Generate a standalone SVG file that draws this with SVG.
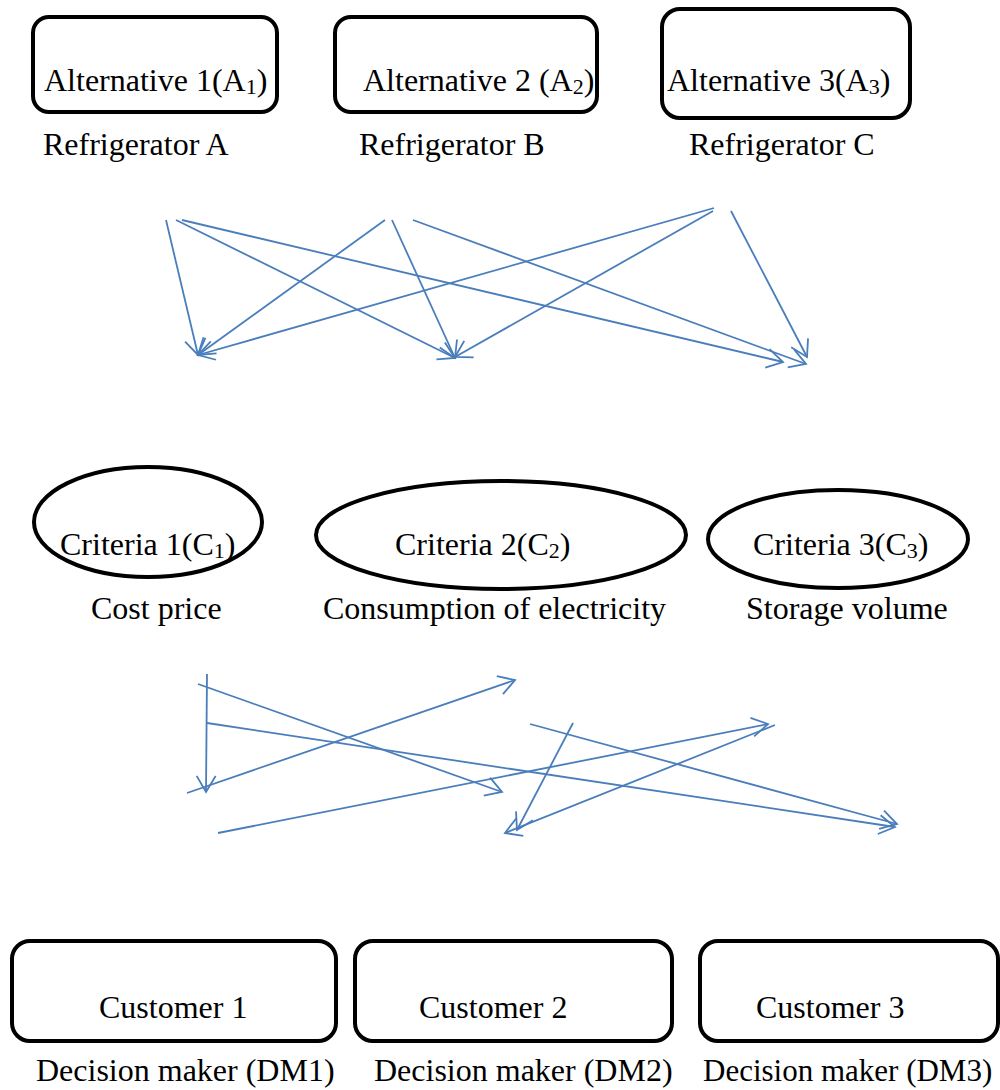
<svg xmlns="http://www.w3.org/2000/svg" width="1000" height="1090" viewBox="0 0 1000 1090">
<style>
text{font-family:"Liberation Serif","Times New Roman",serif;font-size:32px;fill:#000}
.sub{font-size:22px}
.node{fill:#fff;stroke:#000;stroke-width:4}
.arr{stroke:#4a7ebb;stroke-width:1.8;fill:none;marker-end:url(#ah)}
</style>
<defs>
<marker id="ah" markerUnits="userSpaceOnUse" markerWidth="24" markerHeight="24" refX="18" refY="10" orient="auto" viewBox="0 0 24 20">
<path d="M2,0.5 L18,10 L2,19.5" fill="none" stroke="#4a7ebb" stroke-width="1.8"/>
</marker>
</defs>
<rect width="1000" height="1090" fill="#fff"/>
<g id="A1"><rect class="node" x="33" y="17" width="244" height="95" rx="16"/><text x="44" y="91">Alternative 1(A<tspan class="sub" dy="3">1</tspan><tspan dy="-3">)</tspan></text><text x="43" y="155">Refrigerator A</text></g>
<g id="A2"><rect class="node" x="335" y="17" width="262" height="95" rx="16"/><text x="363" y="91">Alternative 2 (A<tspan class="sub" dy="3">2</tspan><tspan dy="-3">)</tspan></text><text x="359" y="155">Refrigerator B</text></g>
<g id="A3"><rect class="node" x="662" y="9" width="248" height="109" rx="18"/><text x="667" y="91">Alternative 3(A<tspan class="sub" dy="3">3</tspan><tspan dy="-3">)</tspan></text><text x="689" y="155">Refrigerator C</text></g>
<g id="C1"><ellipse class="node" cx="148" cy="522" rx="114" ry="55"/><text x="60" y="555">Criteria 1(C<tspan class="sub" dy="3">1</tspan><tspan dy="-3">)</tspan></text><text x="91" y="619">Cost price</text></g>
<g id="C2"><ellipse class="node" cx="501" cy="535" rx="185" ry="54"/><text x="395" y="555">Criteria 2(C<tspan class="sub" dy="3">2</tspan><tspan dy="-3">)</tspan></text><text x="323" y="619">Consumption of electricity</text></g>
<g id="C3"><ellipse class="node" cx="838" cy="539" rx="130" ry="49"/><text x="753" y="555">Criteria 3(C<tspan class="sub" dy="3">3</tspan><tspan dy="-3">)</tspan></text><text x="746" y="619">Storage volume</text></g>
<g id="DM1"><rect class="node" x="12" y="941" width="324" height="100" rx="18"/><text x="99" y="1018">Customer 1</text><text x="36" y="1081">Decision maker (DM1)</text></g>
<g id="DM2"><rect class="node" x="355" y="941" width="317" height="100" rx="18"/><text x="419" y="1018">Customer 2</text><text x="374" y="1081">Decision maker (DM2)</text></g>
<g id="DM3"><rect class="node" x="700" y="941" width="298" height="100" rx="18"/><text x="756" y="1018">Customer 3</text><text x="703" y="1081" style="font-size:31px">Decision maker (DM3)</text></g>
<g id="connectors">
<line class="arr" x1="166" y1="220" x2="198" y2="355"/>
<line class="arr" x1="176" y1="220" x2="455" y2="358"/>
<line class="arr" x1="182" y1="220" x2="783" y2="362"/>
<line class="arr" x1="385" y1="220" x2="198" y2="355"/>
<line class="arr" x1="392" y1="220" x2="455" y2="358"/>
<line class="arr" x1="413" y1="220" x2="806" y2="364"/>
<line class="arr" x1="714" y1="208" x2="198" y2="355"/>
<line class="arr" x1="713" y1="211" x2="455" y2="357"/>
<line class="arr" x1="731" y1="211" x2="807" y2="357"/>
<line class="arr" x1="207" y1="674" x2="206" y2="792"/>
<line class="arr" x1="198" y1="684" x2="502" y2="792"/>
<line class="arr" x1="207" y1="723" x2="895" y2="827"/>
<line class="arr" x1="187" y1="793" x2="515" y2="680"/>
<line class="arr" x1="218" y1="833" x2="768" y2="724"/>
<line class="arr" x1="530" y1="724" x2="897" y2="824"/>
<line class="arr" x1="573" y1="723" x2="517" y2="830"/>
<line class="arr" x1="775" y1="725" x2="505" y2="833"/>
</g>
</svg>
